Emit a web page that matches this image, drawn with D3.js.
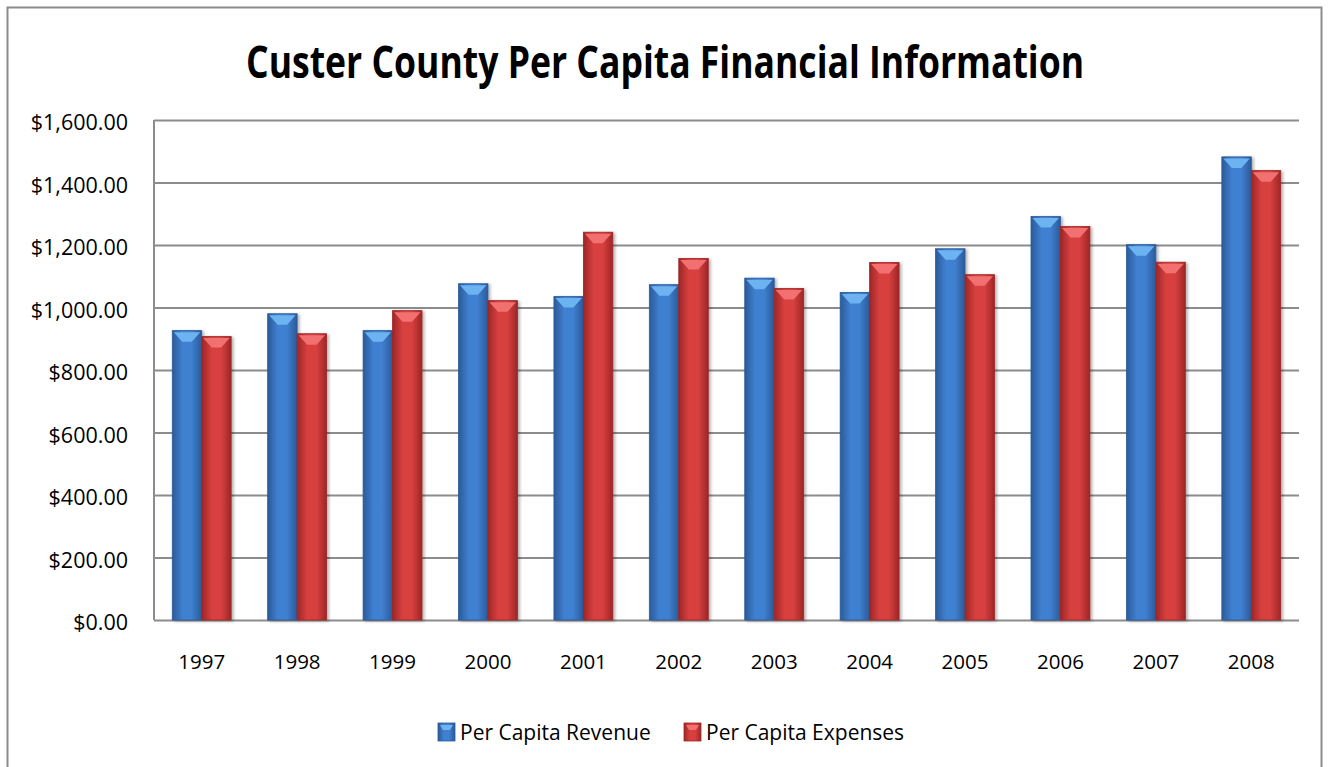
<!DOCTYPE html>
<html>
<head>
<meta charset="utf-8">
<script src="https://cdn.jsdelivr.net/npm/d3@7/dist/d3.min.js"></script>
<style>
    body { margin: 0; background: #fff; }
    svg { display: block; }
    text { font-family: "Open Sans", "DejaVu Sans", sans-serif; fill: #000; }
</style>
</head>
<body>
<svg width="1330" height="767"></svg>
<script>
    // chart data
    var years = ["1997", "1998", "1999", "2000", "2001", "2002", "2003", "2004", "2005", "2006", "2007", "2008"];
    var revenue = [926, 980, 926, 1076, 1035, 1073, 1094, 1048, 1188, 1291, 1201, 1482];
    var expenses = [907, 916, 990, 1022, 1241, 1157, 1061, 1144, 1105, 1259, 1145, 1438];
    var seriesNames = ["Per Capita Revenue", "Per Capita Expenses"];
    var yTicks = [0, 200, 400, 600, 800, 1000, 1200, 1400, 1600];
    var titleText = "Custer County Per Capita Financial Information";

    var svg = d3.select("svg"),
        margin = {top: 120, left: 154, right: 31, bottom: 147},
        width = +svg.attr("width") - margin.left - margin.right,
        height = +svg.attr("height") - margin.top - margin.bottom;

    var colors = {
        "Per Capita Revenue": {dark: "#2b5a99", mid: "#3f80d0", light: "#6db3f2"},
        "Per Capita Expenses": {dark: "#9e2626", mid: "#d84040", light: "#f27070"}
    };

    var defs = svg.append("defs");
    seriesNames.forEach(function(s, i) {
        var c = colors[s];
        var gr = defs.append("linearGradient").attr("id", "grad" + i)
            .attr("x1", "0%").attr("x2", "100%").attr("y1", "0%").attr("y2", "0%");
        gr.append("stop").attr("offset", "0%").attr("stop-color", c.dark);
        gr.append("stop").attr("offset", "35%").attr("stop-color", c.mid);
        gr.append("stop").attr("offset", "65%").attr("stop-color", c.mid);
        gr.append("stop").attr("offset", "100%").attr("stop-color", c.dark);
    });
    var f = defs.append("filter").attr("id", "shadow").attr("x", "-20%").attr("y", "-5%").attr("width", "150%").attr("height", "115%");
    f.append("feDropShadow").attr("dx", 2).attr("dy", 1).attr("stdDeviation", 1.5).attr("flood-color", "#000").attr("flood-opacity", 0.3);

    // outer frame
    svg.append("rect")
        .attr("x", 7.5).attr("y", 7.5).attr("width", 1314).attr("height", 800)
        .attr("fill", "none").attr("stroke", "#8c8c8c").attr("stroke-width", 2);

    svg.append("text")
        .attr("x", 665).attr("y", 78)
        .attr("text-anchor", "middle")
        .attr("font-size", 44).attr("font-weight", "bold")
        .attr("textLength", 838).attr("lengthAdjust", "spacingAndGlyphs")
        .text(titleText);

    var g = svg.append("g").attr("transform", "translate(" + margin.left + "," + margin.top + ")");

    var x0 = d3.scaleBand().domain(years).range([0, width]).paddingInner(0).paddingOuter(0);
    var x1 = d3.scaleBand().domain(seriesNames).range([0, x0.bandwidth()]).paddingInner(0).paddingOuter(0.62);
    var y = d3.scaleLinear().domain([0, 1600]).range([height, 0]);

    // gridlines
    g.append("g")
        .call(d3.axisLeft(y).tickValues(yTicks).tickSize(-width).tickFormat(""))
        .call(function(a) { a.select(".domain").remove(); })
        .selectAll("line").attr("stroke", "#8c8c8c").attr("stroke-width", 2);

    // left axis line
    g.append("line").attr("x1", 0).attr("x2", 0).attr("y1", 0).attr("y2", height)
        .attr("stroke", "#8c8c8c").attr("stroke-width", 2);

    // y labels
    var ya = g.append("g")
        .call(d3.axisLeft(y).tickValues(yTicks).tickSize(0).tickPadding(26)
            .tickFormat(function(d) { return "$" + d3.format(",.2f")(d); }));
    ya.select(".domain").remove();
    ya.selectAll("text").attr("font-size", 21.5).attr("font-family", "Open Sans").attr("fill", "#000").attr("dy", "0.45em");

    // x labels
    var xa = g.append("g").attr("transform", "translate(0," + height + ")")
        .call(d3.axisBottom(x0).tickSize(0).tickPadding(34));
    xa.select(".domain").remove();
    xa.selectAll("text").attr("font-size", 20.5).attr("font-family", "Open Sans").attr("fill", "#000");

    var rows = years.map(function(yr, i) {
        return {year: yr, values: [
            {key: seriesNames[0], idx: 0, value: revenue[i]},
            {key: seriesNames[1], idx: 1, value: expenses[i]}
        ]};
    });

    var groups = g.selectAll(".grp").data(rows).enter().append("g")
        .attr("transform", function(d) { return "translate(" + x0(d.year) + ",0)"; });

    var bars = groups.selectAll(".bar").data(function(d) { return d.values; }).enter().append("g")
        .attr("filter", "url(#shadow)");

    bars.append("rect")
        .attr("x", function(d) { return x1(d.key); })
        .attr("y", function(d) { return y(d.value); })
        .attr("width", x1.bandwidth())
        .attr("height", function(d) { return height - y(d.value); })
        .attr("fill", function(d) { return "url(#grad" + d.idx + ")"; })
        .attr("stroke", function(d) { return colors[d.key].dark; })
        .attr("stroke-width", 0.8);

    // top bevel
    bars.append("path")
        .attr("d", function(d) {
            var bx = x1(d.key), by = y(d.value), w = x1.bandwidth();
            return "M" + (bx + 1.5) + "," + (by + 1.5) +
                "L" + (bx + w - 1.5) + "," + (by + 1.5) +
                "L" + (bx + w * 0.66) + "," + (by + 11) +
                "L" + (bx + w * 0.34) + "," + (by + 11) + "Z";
        })
        .attr("fill", function(d) { return colors[d.key].light; });

    // legend
    var legendX = [438, 684];
    var lg = svg.append("g");
    seriesNames.forEach(function(s, i) {
        var item = lg.append("g").attr("transform", "translate(" + legendX[i] + ",723)");
        item.append("rect").attr("width", 17).attr("height", 18)
            .attr("fill", "url(#grad" + i + ")").attr("stroke", colors[s].dark).attr("stroke-width", 0.8);
        item.append("path").attr("d", "M2,2L15,2L12,7L5,7Z").attr("fill", colors[s].light);
        item.append("text").attr("x", 22).attr("y", 17).attr("font-size", 21).text(s);
    });
</script>
</body>
</html>
